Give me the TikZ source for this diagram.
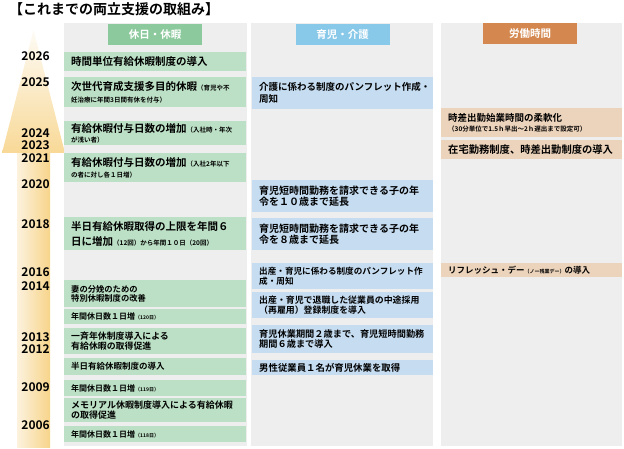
\documentclass[tikz,border=0pt]{standalone}
\usepackage{fontspec}
\setmainfont{Noto Sans CJK JP}[BoldFont={* Bold}]
\usetikzlibrary{calc}
\definecolor{colbg}{HTML}{EEEEEE}
\definecolor{gfill}{HTML}{BCE0C5}
\definecolor{ghead}{HTML}{8CC99C}
\definecolor{bfill}{HTML}{C5DCF1}
\definecolor{bhead}{HTML}{88C8E8}
\definecolor{ofill}{HTML}{ECD3BB}
\definecolor{ohead}{HTML}{D4884F}
\definecolor{arrL}{HTML}{FCF2DE}
\definecolor{arrR}{HTML}{F7D48A}
\newcommand\fs[2]{\fontsize{#1}{#2}\selectfont}
\newcommand\sm{\fontsize{6.5}{8}\selectfont}
\newcommand\tn{\fontsize{5}{6}\selectfont}
\newcommand\entry[7]{%
  \node[#2, minimum height=#5] (#1) at (#3,#4) {};
  \node[txt, font=\bfseries#6] (#1t) at ([xshift=7pt]#1.west) {#7};}
\begin{document}
\begin{tikzpicture}[x=1pt,y=-1pt,
  colbox/.style={fill=colbg, draw=none, anchor=north west, inner sep=0pt, minimum height=423},
  box/.style={anchor=north west, draw=none, inner sep=0pt, minimum width=#1},
  gbox/.style={box=182, fill=gfill},
  bbox/.style={box=181, fill=bfill},
  obox/.style={box=181, fill=ofill},
  txt/.style={anchor=west, align=left, inner sep=0pt, text=black},
  head/.style={minimum width=94, minimum height=21, text=white, inner sep=0pt, font=\bfseries\fs{10.5}{12}},
  year/.style={anchor=east, inner sep=0pt, font=\bfseries\fs{12}{14}}
]
\useasboundingbox (0,0) rectangle (624,449);
\node[anchor=west, inner sep=0pt, font=\bfseries\fs{14}{16}] (title) at (9,9.5) {【これまでの両立支援の取組み】};

% arrow
\shade[left color=arrL, right color=arrR] (17,152) rectangle (50,447);
\shade[top color=white!70!arrL, bottom color=arrR!85!arrL] (2,153) -- (33.5,30) -- (65,153) -- cycle;

% columns
\node[colbox, minimum width=183] (col1) at (64,23) {};
\node[colbox, minimum width=182] (col2) at (251,23) {};
\node[colbox, minimum width=181] (col3) at (441,23) {};

% headers
\node[head, fill=ghead] (h1) at (155,34.5) {休日・休暇};
\node[head, fill=bhead] (h2) at (342.5,34.5) {育児・介護};
\node[head, fill=ohead] (h3) at (530,34) {労働時間};

% years
\node[year] (y2026) at (50,56) {2026};
\node[year] (y2025) at (50,82) {2025};
\node[year] (y2024) at (50,133) {2024};
\node[year] (y2023) at (50,145) {2023};
\node[year] (y2021) at (50,158) {2021};
\node[year] (y2020) at (50,184) {2020};
\node[year] (y2018) at (50,224) {2018};
\node[year] (y2016) at (50,272) {2016};
\node[year] (y2014) at (50,286) {2014};
\node[year] (y2013) at (50,337) {2013};
\node[year] (y2012) at (50,349) {2012};
\node[year] (y2009) at (50,387) {2009};
\node[year] (y2006) at (50,425) {2006};

% green column
\entry{g1}{gbox}{64}{52}{19}{\fs{10.5}{13}}{時間単位有給休暇制度の導入}
\entry{g2}{gbox}{64}{77}{30}{\fs{10.5}{12}}{次世代育成支援多目的休暇{\sm（育児や不}\\{\sm 妊治療に年間3日間有休を付与）}}
\entry{g3}{gbox}{64}{121}{24}{\fs{10.5}{10.5}}{有給休暇付与日数の増加{\sm（入社時・年次}\\{\sm が浅い者）}}
\entry{g4}{gbox}{64}{153}{29}{\fs{10.5}{10.5}}{有給休暇付与日数の増加{\sm（入社2年以下}\\{\sm の者に対し各１日増）}}
\entry{g5}{gbox}{64}{217}{33}{\fs{10.5}{15}}{半日有給休暇取得の上限を年間６\\日に増加{\sm（12回）から年間１０日（20回）}}
\entry{g6}{gbox}{64}{280}{27}{\fs{8.3}{9.5}}{妻の分娩のための\\特別休暇制度の改善}
\entry{g7}{gbox}{64}{309}{15}{\fs{8}{9}}{年間休日数１日増{\tn（120日）}}
\entry{g8}{gbox}{64}{328}{26}{\fs{8.9}{10}}{一斉年休制度導入による\\有給休暇の取得促進}
\entry{g9}{gbox}{64}{358}{17}{\fs{8.5}{10}}{半日有給休暇制度の導入}
\entry{g10}{gbox}{64}{380}{16}{\fs{8}{9}}{年間休日数１日増{\tn（119日）}}
\entry{g11}{gbox}{64}{398}{24}{\fs{9}{10}}{メモリアル休暇制度導入による有給休暇\\の取得促進}
\entry{g12}{gbox}{64}{426}{16}{\fs{8}{9}}{年間休日数１日増{\tn（118日）}}

% blue column
\entry{b1}{bbox}{252}{77}{32}{\fs{9.5}{12}}{介護に係わる制度のパンフレット作成・\\周知}
\entry{b2}{bbox}{252}{180}{32}{\fs{10}{11}}{育児短時間勤務を請求できる子の年\\令を１０歳まで延長}
\entry{b3}{bbox}{252}{218}{32}{\fs{10}{11}}{育児短時間勤務を請求できる子の年\\令を８歳まで延長}
\entry{b4}{bbox}{252}{263}{26}{\fs{8.6}{9.5}}{出産・育児に係わる制度のパンフレット作\\成・周知}
\entry{b5}{bbox}{252}{292}{26}{\fs{8.9}{10}}{出産・育児で退職した従業員の中途採用\\（再雇用）登録制度を導入}
\entry{b6}{bbox}{252}{325}{28}{\fs{9.2}{10}}{育児休業期間２歳まで、育児短時間勤務\\期間６歳まで導入}
\entry{b7}{bbox}{252}{360}{15}{\fs{9.4}{10}}{男性従業員１名が育児休業を取得}

% orange column
\entry{o1}{obox}{441}{108}{29}{\fs{9.5}{10.5}}{時差出勤始業時間の柔軟化\\{\sm（30分単位で1.5ｈ早出～2ｈ遅出まで設定可）}}
\entry{o2}{obox}{441}{140}{19}{\fs{10.3}{12}}{在宅勤務制度、時差出勤制度の導入}
\entry{o3}{obox}{441}{263}{14}{\fs{8.5}{10}}{リフレッシュ・デー{\tn（ノー残業デー）}の導入}
\end{tikzpicture}
\end{document}
